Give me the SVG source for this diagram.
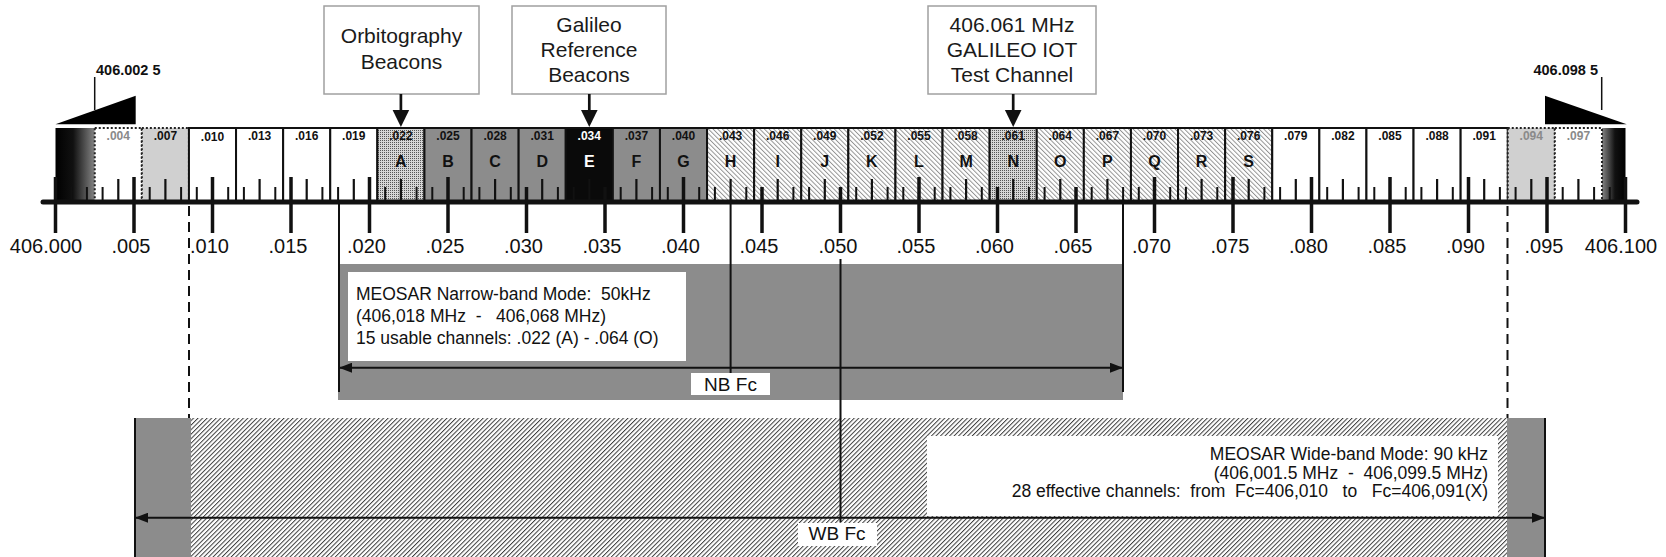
<svg xmlns="http://www.w3.org/2000/svg" width="1666" height="557" viewBox="0 0 1666 557">
<style>
text{font-family:"Liberation Sans",Arial,sans-serif;}
.lbl{font-size:20px;fill:#111;text-anchor:middle;}
.cn{font-size:12px;font-weight:bold;fill:#111;text-anchor:middle;}
.cg{font-size:12px;font-weight:bold;fill:#8a8a8a;text-anchor:middle;}
.lt{font-size:16px;font-weight:bold;fill:#111;text-anchor:middle;}
.bx{fill:#fff;stroke:#a0a0a0;stroke-width:1.5;}
.bt{font-size:21px;fill:#1a1a1a;text-anchor:middle;}
.edge{font-size:14.5px;font-weight:bold;fill:#111;}
.ch{stroke:#111;stroke-width:2;}
.dot{stroke:#222;stroke-width:2;stroke-dasharray:2 2;}
.info{font-size:17.5px;fill:#111;}
.fc{font-size:19px;fill:#111;text-anchor:middle;}
.gray{fill:#8c8c8c;}
</style>
<defs>
<linearGradient id="gl" x1="0" y1="0" x2="1" y2="0"><stop offset="0" stop-color="#000"/><stop offset="0.45" stop-color="#111"/><stop offset="1" stop-color="#858585"/></linearGradient>
<linearGradient id="gr" x1="0" y1="0" x2="1" y2="0"><stop offset="0" stop-color="#858585"/><stop offset="0.55" stop-color="#111"/><stop offset="1" stop-color="#000"/></linearGradient>
<pattern id="hb" width="3.3" height="3.3" patternUnits="userSpaceOnUse" patternTransform="rotate(-45)"><rect width="3.3" height="3.3" fill="#fff"/><line x1="0.5" y1="0" x2="0.5" y2="3.3" stroke="#8a8a8a" stroke-width="0.9"/></pattern>
<pattern id="hf" width="3.2" height="3.2" patternUnits="userSpaceOnUse" patternTransform="rotate(45)"><rect width="3.2" height="3.2" fill="#fff"/><line x1="0.5" y1="0" x2="0.5" y2="3.2" stroke="#3c3c3c" stroke-width="1"/></pattern>
<pattern id="st" width="2" height="2" patternUnits="userSpaceOnUse"><rect width="2" height="2" fill="#d6d6d6"/><rect width="1" height="1" fill="#555"/></pattern>
<marker id="ah" viewBox="0 0 13 10" refX="13" refY="5" markerWidth="13" markerHeight="10" markerUnits="userSpaceOnUse" orient="auto-start-reverse"><path d="M0,0 L13,5 L0,10 z" fill="#111"/></marker>
</defs>
<rect width="1666" height="557" fill="#fff"/>

<g id="wb-band">
<rect class="gray" x="135" y="418" width="56" height="139"/>
<rect x="191" y="418" width="1316" height="139" fill="url(#hf)"/>
<rect class="gray" x="1507" y="418" width="38" height="139"/>
<rect x="927" y="436" width="571" height="80" fill="#fff"/>
<line x1="135" y1="418" x2="135" y2="557" stroke="#111" stroke-width="2"/>
<line x1="1545" y1="418" x2="1545" y2="557" stroke="#111" stroke-width="2"/>
<text class="info" x="1488" y="460" text-anchor="end">MEOSAR Wide-band Mode: 90 kHz</text>
<text class="info" x="1488" y="479" text-anchor="end" xml:space="preserve">(406,001.5 MHz  -  406,099.5 MHz)</text>
<text class="info" x="1488" y="497" text-anchor="end" xml:space="preserve">28 effective channels:  from  Fc=406,010   to   Fc=406,091(X)</text>
</g>

<g id="nb-band">
<rect class="gray" x="338" y="264" width="785" height="136"/>
<rect x="348" y="272" width="338" height="89" fill="#fff"/>
<text class="info" x="356" y="300" xml:space="preserve">MEOSAR Narrow-band Mode:  50kHz</text>
<text class="info" x="356" y="322" xml:space="preserve">(406,018 MHz  -   406,068 MHz)</text>
<text class="info" x="356" y="344">15 usable channels: .022 (A) - .064 (O)</text>
</g>

<g id="channels">
<rect x="55.5" y="128" width="39.25" height="74" fill="url(#gl)"/>
<rect x="1601.95" y="128" width="23.55" height="74" fill="url(#gr)"/>
<rect class="dot" x="94.75" y="128" width="47.1" height="74" fill="#fff"/>
<rect class="dot" x="141.85" y="128" width="47.1" height="74" fill="#d0d0d0"/>
<rect class="ch" x="188.95" y="128" width="47.1" height="74" fill="#fff"/>
<rect class="ch" x="236.05" y="128" width="47.1" height="74" fill="#fff"/>
<rect class="ch" x="283.15" y="128" width="47.1" height="74" fill="#fff"/>
<rect class="ch" x="330.25" y="128" width="47.1" height="74" fill="#fff"/>
<rect class="ch" x="377.35" y="128" width="47.1" height="74" fill="url(#st)"/>
<rect class="ch" x="424.45" y="128" width="47.1" height="74" fill="#8c8c8c"/>
<rect class="ch" x="471.55" y="128" width="47.1" height="74" fill="#8c8c8c"/>
<rect class="ch" x="518.65" y="128" width="47.1" height="74" fill="#8c8c8c"/>
<rect class="ch" x="565.75" y="128" width="47.1" height="74" fill="#0a0a0a"/>
<rect class="ch" x="612.85" y="128" width="47.1" height="74" fill="#8c8c8c"/>
<rect class="ch" x="659.95" y="128" width="47.1" height="74" fill="#8c8c8c"/>
<rect class="ch" x="707.05" y="128" width="47.1" height="74" fill="url(#hb)"/>
<rect class="ch" x="754.15" y="128" width="47.1" height="74" fill="url(#hb)"/>
<rect class="ch" x="801.25" y="128" width="47.1" height="74" fill="url(#hb)"/>
<rect class="ch" x="848.35" y="128" width="47.1" height="74" fill="url(#hb)"/>
<rect class="ch" x="895.45" y="128" width="47.1" height="74" fill="url(#hb)"/>
<rect class="ch" x="942.55" y="128" width="47.1" height="74" fill="url(#hb)"/>
<rect class="ch" x="989.65" y="128" width="47.1" height="74" fill="url(#st)"/>
<rect class="ch" x="1036.75" y="128" width="47.1" height="74" fill="url(#hb)"/>
<rect class="ch" x="1083.85" y="128" width="47.1" height="74" fill="url(#hb)"/>
<rect class="ch" x="1130.95" y="128" width="47.1" height="74" fill="url(#hb)"/>
<rect class="ch" x="1178.05" y="128" width="47.1" height="74" fill="url(#hb)"/>
<rect class="ch" x="1225.15" y="128" width="47.1" height="74" fill="url(#hb)"/>
<rect class="ch" x="1272.25" y="128" width="47.1" height="74" fill="#fff"/>
<rect class="ch" x="1319.35" y="128" width="47.1" height="74" fill="#fff"/>
<rect class="ch" x="1366.45" y="128" width="47.1" height="74" fill="#fff"/>
<rect class="ch" x="1413.55" y="128" width="47.1" height="74" fill="#fff"/>
<rect class="ch" x="1460.65" y="128" width="47.1" height="74" fill="#fff"/>
<rect class="dot" x="1507.75" y="128" width="47.1" height="74" fill="#d0d0d0"/>
<rect class="dot" x="1554.85" y="128" width="47.1" height="74" fill="#fff"/>

<text class="cg" x="118.3" y="140">.004</text>
<text class="cn" x="165.4" y="140">.007</text>
<text class="cn" x="212.5" y="141">.010</text>
<text class="cn" x="259.6" y="140">.013</text>
<text class="cn" x="306.7" y="140">.016</text>
<text class="cn" x="353.8" y="140">.019</text>
<text class="cn" x="400.9" y="140">.022</text>
<text class="cn" x="448.0" y="140">.025</text>
<text class="cn" x="495.1" y="140">.028</text>
<text class="cn" x="542.2" y="140">.031</text>
<text class="cn" x="589.3" y="140" style="fill:#fff">.034</text>
<text class="cn" x="636.4" y="140">.037</text>
<text class="cn" x="683.5" y="140">.040</text>
<text class="cn" x="730.6" y="140">.043</text>
<text class="cn" x="777.7" y="140">.046</text>
<text class="cn" x="824.8" y="140">.049</text>
<text class="cn" x="871.9" y="140">.052</text>
<text class="cn" x="919.0" y="140">.055</text>
<text class="cn" x="966.1" y="140">.058</text>
<text class="cn" x="1013.2" y="140">.061</text>
<text class="cn" x="1060.3" y="140">.064</text>
<text class="cn" x="1107.4" y="140">.067</text>
<text class="cn" x="1154.5" y="140">.070</text>
<text class="cn" x="1201.6" y="140">.073</text>
<text class="cn" x="1248.7" y="140">.076</text>
<text class="cn" x="1295.8" y="140">.079</text>
<text class="cn" x="1342.9" y="140">.082</text>
<text class="cn" x="1390.0" y="140">.085</text>
<text class="cn" x="1437.1" y="140">.088</text>
<text class="cn" x="1484.2" y="140">.091</text>
<text class="cg" x="1531.3" y="140">.094</text>
<text class="cg" x="1578.4" y="140">.097</text>

<text class="lt" x="400.9" y="167">A</text>
<text class="lt" x="448.0" y="167">B</text>
<text class="lt" x="495.1" y="167">C</text>
<text class="lt" x="542.2" y="167">D</text>
<text class="lt" x="589.3" y="167" style="fill:#fff">E</text>
<text class="lt" x="636.4" y="167">F</text>
<text class="lt" x="683.5" y="167">G</text>
<text class="lt" x="730.6" y="167">H</text>
<text class="lt" x="777.7" y="167">I</text>
<text class="lt" x="824.8" y="167">J</text>
<text class="lt" x="871.9" y="167">K</text>
<text class="lt" x="919.0" y="167">L</text>
<text class="lt" x="966.1" y="167">M</text>
<text class="lt" x="1013.2" y="167">N</text>
<text class="lt" x="1060.3" y="167">O</text>
<text class="lt" x="1107.4" y="167">P</text>
<text class="lt" x="1154.5" y="167">Q</text>
<text class="lt" x="1201.6" y="167">R</text>
<text class="lt" x="1248.7" y="167">S</text>
</g>

<g id="edges">
<polygon points="55.5,124.3 135.7,95.7 135.7,124.3" fill="#000"/>
<polygon points="1545,95.7 1545,124.3 1626.7,124.3" fill="#000"/>
<line x1="94.7" y1="77" x2="94.7" y2="110" stroke="#111" stroke-width="1.5"/>
<line x1="1601.7" y1="77" x2="1601.7" y2="110" stroke="#111" stroke-width="1.5"/>
<text class="edge" x="96" y="75">406.002 5</text>
<text class="edge" x="1598" y="75" text-anchor="end">406.098 5</text>
</g>

<g id="ruler">
<path stroke="#111" stroke-width="2" d="M71.2 187V202M86.9 187V202M102.6 187V202M149.7 187V202M181.1 187V202M196.8 187V202M228.2 187V202M243.9 187V202M275.3 187V202M322.4 187V202M338.1 187V202M385.2 187V202M416.6 187V202M432.3 187V202M463.7 187V202M479.4 187V202M510.8 187V202M557.9 187V202M573.6 187V202M620.7 187V202M652.1 187V202M667.8 187V202M699.2 187V202M714.9 187V202M746.3 187V202M793.4 187V202M809.1 187V202M856.2 187V202M887.6 187V202M903.3 187V202M934.7 187V202M950.4 187V202M981.8 187V202M1028.9 187V202M1044.6 187V202M1091.7 187V202M1123.1 187V202M1138.8 187V202M1170.2 187V202M1185.9 187V202M1217.3 187V202M1264.4 187V202M1280.1 187V202M1327.2 187V202M1358.6 187V202M1374.3 187V202M1405.7 187V202M1421.4 187V202M1452.8 187V202M1499.9 187V202M1515.6 187V202M1562.7 187V202M1594.1 187V202M1609.8 187V202"/>
<path stroke="#111" stroke-width="2.2" d="M118.3 179V202M165.4 179V202M259.6 179V202M306.7 179V202M353.8 179V202M400.9 179V202M495.1 179V202M542.2 179V202M589.3 179V202M636.4 179V202M730.6 179V202M777.7 179V202M824.8 179V202M871.9 179V202M966.1 179V202M1013.2 179V202M1060.3 179V202M1107.4 179V202M1201.6 179V202M1248.7 179V202M1295.8 179V202M1342.9 179V202M1437.1 179V202M1484.2 179V202M1531.3 179V202M1578.4 179V202"/>
<path stroke="#111" stroke-width="3.5" d="M55.5 177V233M134 177V233M212.5 177V233M291 177V233M369.5 177V233M448 177V233M683.5 177V233M919 177V233M1154.5 177V233M1233 177V233M1311.5 177V233M1390 177V233M1468.5 177V233M1547 177V233M1625.5 177V233M526.5 187V233M605 187V233M762 187V233M840.5 187V233M997.5 187V233M1076 187V233"/>
<line x1="43" y1="202" x2="1637" y2="202" stroke="#111" stroke-width="5" stroke-linecap="round"/>
<text class="lbl" x="46" y="253">406.000</text>
<text class="lbl" x="131" y="253">.005</text>
<text class="lbl" x="209.5" y="253">.010</text>
<text class="lbl" x="288" y="253">.015</text>
<text class="lbl" x="366.5" y="253">.020</text>
<text class="lbl" x="445" y="253">.025</text>
<text class="lbl" x="523.5" y="253">.030</text>
<text class="lbl" x="602" y="253">.035</text>
<text class="lbl" x="680.5" y="253">.040</text>
<text class="lbl" x="759" y="253">.045</text>
<text class="lbl" x="838" y="253">.050</text>
<text class="lbl" x="916" y="253">.055</text>
<text class="lbl" x="994.5" y="253">.060</text>
<text class="lbl" x="1073" y="253">.065</text>
<text class="lbl" x="1151.5" y="253">.070</text>
<text class="lbl" x="1230" y="253">.075</text>
<text class="lbl" x="1308.5" y="253">.080</text>
<text class="lbl" x="1387" y="253">.085</text>
<text class="lbl" x="1465.5" y="253">.090</text>
<text class="lbl" x="1544" y="253">.095</text>
<text class="lbl" x="1621" y="253">406.100</text>
</g>

<g id="box-orbitography">
<rect class="bx" x="324" y="6" width="155" height="88"/>
<text class="bt" x="401.5" y="43">Orbitography</text>
<text class="bt" x="401.5" y="69">Beacons</text>
</g>
<g id="box-galileo">
<rect class="bx" x="512" y="6" width="154" height="88"/>
<text class="bt" x="589" y="32">Galileo</text>
<text class="bt" x="589" y="57">Reference</text>
<text class="bt" x="589" y="82">Beacons</text>
</g>
<g id="box-iot">
<rect class="bx" x="928" y="6" width="168" height="88"/>
<text class="bt" x="1012" y="32">406.061 MHz</text>
<text class="bt" x="1012" y="57">GALILEO IOT</text>
<text class="bt" x="1012" y="82">Test Channel</text>
</g>

<g id="connectors" stroke="#111" fill="none">
<line x1="400.9" y1="94" x2="400.9" y2="111" stroke-width="2.7"/>
<polygon points="392.6,110 409.2,110 400.9,127" fill="#111" stroke="none"/>
<line x1="589.3" y1="94" x2="589.3" y2="111" stroke-width="2.7"/>
<polygon points="581,110 597.6,110 589.3,127" fill="#111" stroke="none"/>
<line x1="1013.2" y1="94" x2="1013.2" y2="111" stroke-width="2.7"/>
<polygon points="1004.9,110 1021.5,110 1013.2,127" fill="#111" stroke="none"/>
<line x1="189" y1="206" x2="189" y2="418" stroke-width="2" stroke-dasharray="10 6"/>
<line x1="1507.5" y1="206" x2="1507.5" y2="418" stroke-width="2" stroke-dasharray="10 6"/>
<line x1="339" y1="204" x2="339" y2="392" stroke-width="2"/>
<line x1="1123" y1="204" x2="1123" y2="392" stroke-width="2"/>
<line x1="730.6" y1="204" x2="730.6" y2="381" stroke-width="2"/>
<line x1="840.5" y1="259" x2="840.5" y2="522" stroke-width="2"/>
<line x1="339" y1="367.7" x2="1123" y2="367.7" stroke-width="2" marker-start="url(#ah)" marker-end="url(#ah)"/>
<line x1="135" y1="517.7" x2="1545" y2="517.7" stroke-width="2" marker-start="url(#ah)" marker-end="url(#ah)"/>
</g>

<g id="fc-labels">
<rect x="691" y="373" width="79" height="22" fill="#fff"/>
<text class="fc" x="730.5" y="391">NB Fc</text>
<rect x="798" y="523" width="79" height="23" fill="#fff"/>
<text class="fc" x="837" y="540">WB Fc</text>
</g>
</svg>
